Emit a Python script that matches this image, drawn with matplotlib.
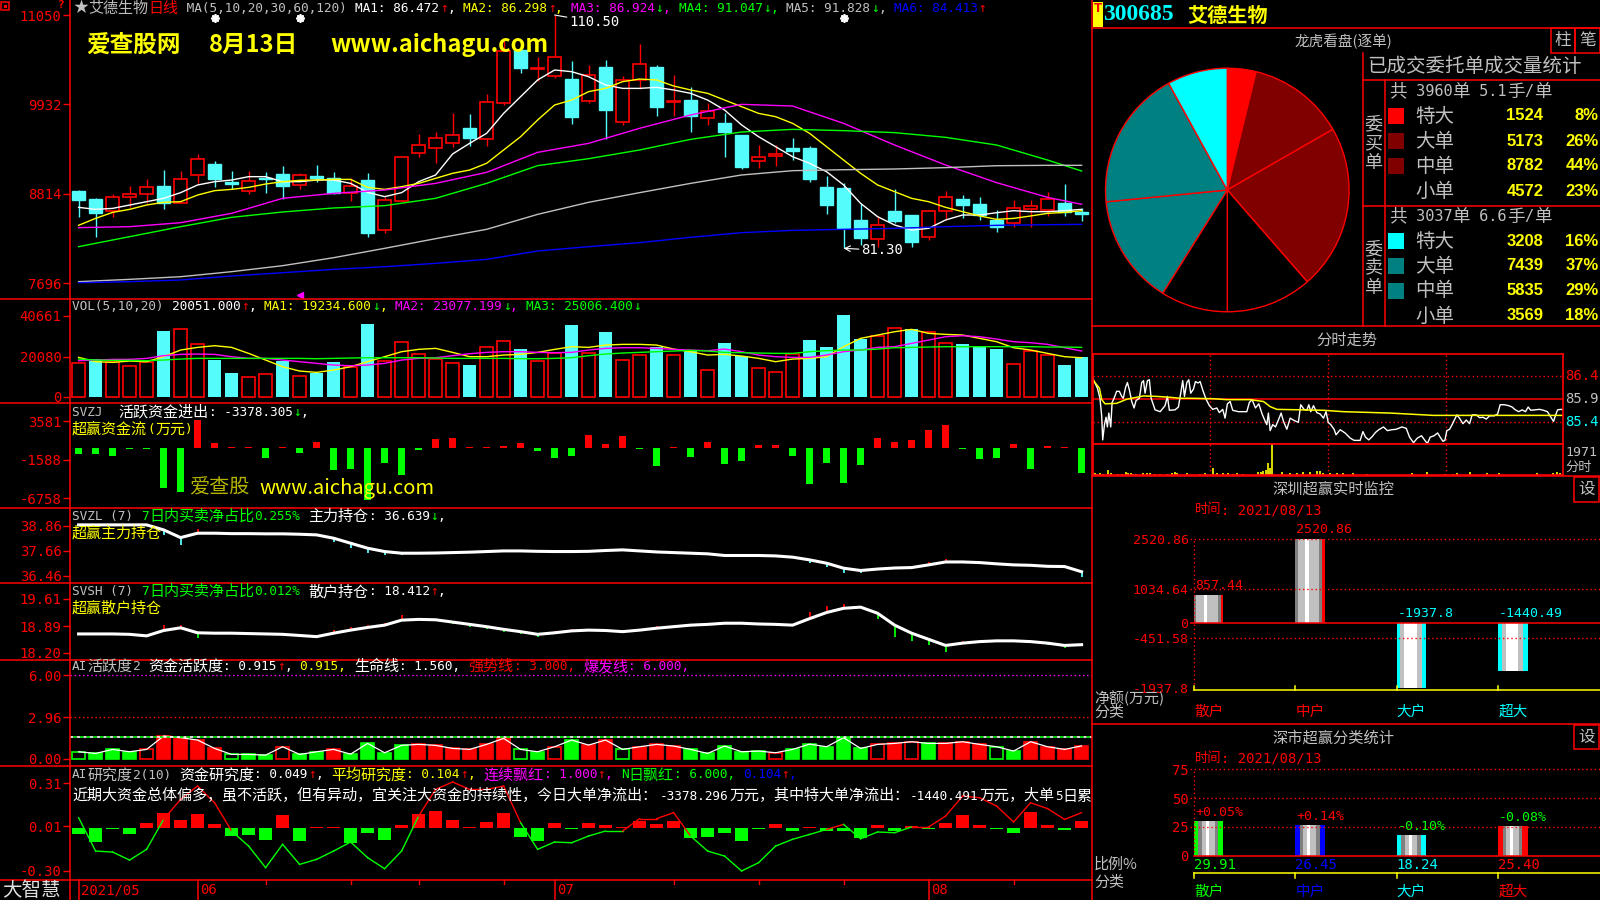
import numpy as np
import matplotlib
matplotlib.use("Agg")
import matplotlib.pyplot as plt
import matplotlib.transforms as mtransforms
from matplotlib.patches import Rectangle
from matplotlib.lines import Line2D

# ------------------------------------------------------------------ data
stock_code = "300685"
stock_name = "艾德生物"
trade_date = "2021/08/13"

month_idx = [0, 7, 28, 50]
month_lbl = ["2021/05", "06", "07", "08"]
week_idx = [11, 16, 20, 25, 35, 40, 45, 55]
event_idx = [8, 13, 45]

opens = [88.47, 87.43, 86.01, 87.68, 88.10, 89.10, 87.01, 90.44, 91.85, 89.64,
         88.52, 90.14, 90.60, 89.18, 90.35, 90.06, 88.18, 89.85, 83.55, 87.26,
         93.27, 93.81, 94.44, 96.36, 94.94, 99.53, 106.12, 103.79, 102.87, 102.49,
         99.78, 103.99, 97.15, 102.37, 103.99, 99.57, 99.86, 97.57, 96.99, 95.48,
         92.27, 92.90, 93.85, 93.90, 88.98, 88.89, 84.85, 82.51, 86.01, 85.47,
         82.76, 85.97, 87.47, 86.85, 84.85, 84.51, 86.26, 86.10, 87.01, 85.89]
highs = [88.60, 87.56, 88.10, 89.10, 89.98, 91.10, 90.98, 93.10, 92.23, 90.98,
         90.98, 90.89, 91.64, 90.77, 91.77, 90.85, 90.14, 90.77, 87.68, 92.69,
         95.57, 95.82, 98.19, 98.11, 100.57, 107.67, 106.54, 105.20, 110.50, 104.75,
         104.24, 104.87, 102.87, 106.87, 104.24, 102.99, 101.45, 99.45, 98.19, 95.48,
         94.23, 94.23, 95.11, 94.15, 90.35, 89.43, 86.85, 85.35, 88.68, 85.47,
         86.10, 88.47, 87.97, 87.76, 86.10, 87.35, 87.35, 88.35, 89.35, 86.31]
lows = [85.26, 82.68, 85.26, 86.51, 86.93, 86.18, 86.93, 89.43, 89.02, 88.68,
        88.10, 88.27, 87.43, 88.73, 89.64, 88.10, 87.22, 82.76, 83.26, 87.14,
        92.77, 91.94, 94.02, 94.15, 94.15, 99.24, 103.29, 102.28, 102.66, 96.86,
        99.53, 94.94, 96.73, 101.20, 97.86, 97.86, 95.82, 96.73, 92.77, 91.27,
        91.40, 91.60, 92.35, 89.64, 85.60, 81.30, 81.72, 81.42, 84.43, 81.50,
        82.34, 84.85, 85.05, 84.85, 83.38, 84.01, 84.01, 85.35, 85.35, 84.76]
closes = [87.35, 85.76, 87.68, 88.06, 89.02, 86.93, 89.94, 92.44, 89.98, 89.35,
          89.69, 89.98, 89.14, 90.48, 90.14, 88.18, 89.14, 83.26, 87.35, 92.69,
          94.19, 95.07, 95.44, 95.07, 99.57, 106.04, 103.83, 103.91, 105.29, 97.78,
          102.95, 98.61, 102.33, 104.33, 99.03, 99.74, 97.90, 98.53, 95.86, 91.52,
          92.73, 93.11, 93.52, 89.98, 86.72, 83.80, 82.55, 84.18, 84.76, 82.13,
          85.97, 87.68, 86.72, 85.47, 84.01, 86.31, 86.60, 87.47, 85.89, 85.55]

ma5 = [86.43, 86.18, 86.30, 86.72, 87.14, 87.56, 88.27, 89.23, 89.64, 89.85,
       90.27, 90.27, 89.64, 89.64, 89.85, 89.85, 89.43, 88.31, 87.77, 88.27,
       89.64, 90.48, 93.11, 94.44, 95.69, 98.19, 100.28, 102.37, 103.62, 103.41,
       102.78, 101.74, 101.32, 101.32, 101.45, 101.12, 100.70, 99.86, 98.61, 96.74,
       95.27, 94.02, 92.77, 91.94, 90.89, 89.23, 86.93, 85.26, 84.22, 83.59,
       83.80, 84.85, 85.47, 85.47, 85.76, 86.01, 85.89, 85.89, 86.01, 86.18]
ma10 = [84.18, 85.05, 85.80, 86.18, 86.72, 87.06, 87.14, 87.97, 88.52, 88.68,
        88.93, 89.35, 89.64, 89.81, 89.85, 89.93, 89.93, 88.93, 88.68, 89.02,
        89.43, 90.06, 90.69, 91.10, 91.94, 93.61, 95.27, 97.36, 99.24, 99.86,
        100.91, 101.32, 102.16, 102.49, 102.37, 101.62, 101.12, 100.70, 99.86, 99.03,
        98.19, 97.78, 96.94, 95.69, 94.02, 92.35, 90.69, 89.23, 88.39, 87.56,
        87.14, 86.43, 85.89, 85.35, 84.93, 85.05, 85.35, 85.68, 85.80, 86.01]
# the slow averages were read every third session
ma_idx = list(range(0, 58, 3)) + [59]
ma20 = [83.89, 84.01, 84.51, 85.68, 87.56, 88.18, 88.60, 89.43, 90.81, 93.31, 94.44,
        96.32, 97.99, 99.32, 99.11, 96.94, 94.23, 91.73, 89.52, 87.68, 86.81]
ma30 = [81.51, 82.76, 84.01, 85.18, 85.85, 86.35, 86.64, 87.56, 89.43, 91.65, 92.52,
        93.61, 94.94, 95.86, 96.19, 96.03, 95.78, 95.19, 94.23, 92.35, 90.98]
ma60 = [77.13, 77.42, 77.75, 78.38, 79.13, 80.13, 81.30, 82.51, 83.68, 85.55, 87.06,
        88.27, 89.43, 90.48, 91.02, 91.14, 91.23, 91.40, 91.64, 91.69, 91.69]
ma120 = [77.00, 77.13, 77.34, 77.84, 78.25, 78.67, 79.00, 79.42, 79.92, 80.97, 81.51,
         82.01, 82.68, 83.26, 83.55, 83.68, 83.80, 84.01, 84.18, 84.26, 84.30]
ma_last = ["86.472", "86.298", "86.924", "91.047", "91.828", "84.413"]
ma_up = [True, True, False, False, False, True]
main_ticks = [76.96, 88.14, 99.32, 110.50]

volume = [16730, 18900, 17570, 15390, 17230, 33130, 33960, 26270, 18400, 12050,
          9700, 11210, 17900, 10370, 12050, 17570, 15060, 36470, 17900, 27270,
          21250, 18900, 16730, 15890, 24760, 27940, 23920, 17900, 21750, 35970,
          21750, 32460, 18400, 20910, 24760, 20910, 23420, 13380, 26940, 20410,
          14220, 12210, 21250, 28440, 24930, 40990, 28940, 30620, 34300, 33960,
          32290, 26770, 26430, 25090, 23920, 16230, 22920, 20910, 15890, 20051]
vol_dir = "RCRRRCRRCC" "RRCRCCRCRR" "RRRCRRCRRC" "RCRRCRCRCC" "RRRCCCCRRC" "RRCCCRRRCC"
vol_ma5 = [19740, 17570, 17230, 17900, 17570, 20080, 23420, 24760, 25600, 24760,
           21750, 18400, 15060, 12880, 12210, 13380, 15060, 17570, 20080, 22590,
           23760, 24260, 22250, 20080, 20080, 20910, 21250, 22250, 23760, 25100,
           24760, 25930, 26270, 26270, 25930, 23920, 22590, 20910, 21250, 20410,
           19240, 17570, 18900, 19240, 20080, 25100, 29280, 30950, 32620, 33800,
           31790, 31290, 30950, 29280, 27600, 24590, 23420, 21750, 20080, 19570]
vol_ma10 = [18070, 18400, 18740, 18740, 19240, 20580, 21250, 21410, 21250, 20080,
            19240, 19240, 18400, 17570, 16730, 15890, 15560, 15890, 16730, 18400,
            19240, 19570, 20580, 21580, 22250, 22590, 22590, 22250, 22080, 22250,
            23420, 24260, 24590, 24590, 24260, 23760, 23420, 23090, 23920, 22590,
            20910, 20080, 19740, 19740, 20910, 22590, 23420, 24760, 25100, 26770,
            28440, 30110, 30620, 30110, 28940, 27600, 27100, 26270, 24590, 22920]
vol_ma20 = [18900, 18400, 18240, 18240, 18070, 18400, 18900, 19240, 19240, 19240,
            19240, 19240, 19240, 19240, 19070, 19240, 19410, 19570, 19570, 19570,
            19570, 19410, 19240, 19240, 19240, 19240, 19070, 19070, 19240, 19570,
            20580, 21410, 21920, 22250, 22590, 22920, 23260, 22920, 22250, 22080,
            21920, 21750, 21750, 22590, 23090, 23420, 23420, 23920, 24590, 24760,
            24930, 25100, 25100, 25100, 25100, 25100, 25100, 24930, 24930, 24760]
vol_ticks = [0, 20080, 40661]

svzj = [-806, -806, -1119, -224, -224, -5372, -5954, 3716, 582, 45,
        45, -1343, 45, -716, 716, -3000, -2865, -6939, -2059, -3582,
        -358, 1119, 1254, 45, 45, 179, 582, -448, -1433, -1164,
        1656, 448, 1522, -224, -2373, 45, -1298, 716, -2104, -1836,
        313, 313, -1164, -4790, -1970, -4656, -2239, 1254, 716, 985,
        2328, 3000, -224, -1567, -1433, 448, -2776, 179, 45, -3378]
svzj_ticks = [-6758, -1588, 3581]

svzl = [38.91, 38.91, 38.91, 38.91, 38.91, 38.67, 38.30, 38.51, 38.51, 38.49,
        38.49, 38.48, 38.48, 38.46, 38.43, 38.27, 38.03, 37.79, 37.63, 37.55,
        37.55, 37.56, 37.58, 37.60, 37.63, 37.66, 37.66, 37.64, 37.63, 37.63,
        37.64, 37.68, 37.71, 37.66, 37.61, 37.58, 37.55, 37.52, 37.44, 37.44,
        37.44, 37.42, 37.36, 37.23, 37.07, 36.83, 36.72, 36.79, 36.84, 36.86,
        36.99, 37.13, 37.13, 37.10, 37.04, 36.99, 36.97, 36.92, 36.91, 36.66]
svzl_ticks = [36.46, 37.66, 38.86]

svsh = [18.69, 18.69, 18.69, 18.68, 18.64, 18.78, 18.85, 18.72, 18.71, 18.71,
        18.70, 18.69, 18.68, 18.65, 18.62, 18.71, 18.79, 18.86, 18.92, 19.05,
        19.07, 19.06, 19.00, 18.94, 18.88, 18.81, 18.75, 18.68, 18.72, 18.77,
        18.79, 18.78, 18.75, 18.79, 18.84, 18.88, 18.92, 18.94, 18.97, 18.97,
        18.95, 18.94, 18.92, 19.09, 19.25, 19.36, 19.39, 19.23, 18.92, 18.71,
        18.55, 18.39, 18.45, 18.49, 18.51, 18.51, 18.49, 18.45, 18.39, 18.41]
svsh_ticks = [18.20, 18.89, 19.61]

act = [0.50, 0.38, 0.67, 0.50, 0.67, 1.63, 1.51, 1.34, 0.74, 0.31,
       0.31, 0.26, 0.86, 0.31, 0.50, 0.67, 0.33, 1.10, 0.43, 0.96,
       1.03, 0.96, 0.74, 0.67, 1.03, 1.46, 0.67, 0.50, 0.86, 1.34,
       0.98, 1.34, 0.67, 0.86, 1.03, 0.91, 0.67, 0.38, 0.91, 0.50,
       0.55, 0.43, 0.67, 1.05, 0.86, 1.51, 0.74, 1.03, 1.10, 1.22,
       1.10, 1.10, 1.22, 1.03, 0.86, 0.55, 1.22, 0.86, 0.67, 0.92]
act_kind = "GgggRrrrrG" "ggRggrgggg" "rrrrrrGgRg" "rrGrrrgggg" "gRgggggRrR" "grrrGgrrrr"
act_ticks = [0.00, 2.96, 6.00]
life_line, strong_line, burst_line = 1.56, 3.0, 6.0

res_bar = [-0.047, -0.10, -0.012, -0.042, 0.030, 0.10, 0.051, 0.093, 0.023, -0.058,
           -0.049, -0.086, 0.086, -0.093, 0.005, 0.007, -0.105, -0.040, -0.086, 0.016,
           0.093, 0.114, 0.051, 0.007, 0.040, 0.10, -0.063, -0.093, 0.030, -0.012,
           0.030, 0.016, 0.005, 0.047, 0.023, 0.047, -0.072, -0.063, -0.035, -0.093,
           -0.012, 0.023, -0.023, 0.005, -0.023, -0.023, -0.072, 0.016, -0.023, 0.012,
           -0.007, 0.035, 0.086, 0.016, -0.012, -0.035, 0.109, 0.016, -0.019, 0.049]
res_line = [0.070, -0.163, -0.170, -0.226, -0.151, 0.058, 0.198, 0.291, 0.174, -0.023,
            -0.128, -0.279, -0.116, -0.256, -0.221, -0.163, -0.100, -0.209, -0.286, -0.163,
            0.081, 0.267, 0.319, 0.267, 0.267, 0.291, 0.035, -0.151, -0.100, -0.105,
            -0.058, -0.023, -0.023, 0.063, 0.063, 0.105, -0.058, -0.163, -0.198, -0.302,
            -0.244, -0.128, -0.081, -0.047, -0.012, 0.023, -0.077, -0.030, -0.035, 0.005,
            0.005, 0.081, 0.221, 0.209, 0.151, 0.040, 0.174, 0.133, 0.058, 0.105]
res_ticks = [-0.30, 0.01, 0.31]
res_note = ("近期大资金总体偏多，虽不活跃，但有异动，宜关注大资金的持续性，今日大单净流出："
            "-3378.296万元，其中特大单净流出：-1440.491万元，大单5日累")

# order book pie / table
order_lbl = ["特大", "大单", "中单", "小单"]
buy_qty = [1524, 5173, 8782, 4572]
sell_qty = [3208, 7439, 5835, 3569]
buy_orders, buy_per = 3960, "5.1"
sell_orders, sell_per = 3037, "6.6"

# intraday
fs_levels = [86.41, 85.91, 85.41]
fs_vol_max = 1971
fs_min = [0, 2.4, 3.7, 4.6, 5.1, 6.0, 6.8, 7.5, 8.2, 9.2,
          9.9, 10.9, 12.2, 13.6, 14.8, 15.6, 16.8, 17.7, 18.7, 19.9,
          21.1, 22.1, 23.8, 25.0, 25.9, 26.7, 27.9, 28.9, 29.8, 31.8,
          34.4, 36.9, 38.1, 39.1, 42.0, 43.7, 44.9, 45.9, 46.8, 48.0,
          49.0, 50.0, 51.4, 52.4, 53.7, 54.8, 56.1, 57.8, 59.5, 61.2,
          63.3, 64.6, 66.3, 67.5, 68.7, 70.1, 71.4, 74.3, 78.6, 79.9,
          81.3, 83.0, 84.7, 86.4, 87.8, 88.8, 89.6, 90.5, 91.8, 93.2,
          94.9, 96.1, 97.3, 99.0, 100.7, 102.7, 104.9, 106.1, 107.8, 109.2,
          110.2, 111.2, 112.6, 114.3, 116.0, 117.7, 119.0, 120.1, 121.4, 123.1,
          124.1, 126.2, 128.7, 131.3, 133.3, 136.4, 137.8, 139.1, 140.8, 142.5,
          144.2, 145.9, 148.3, 150.3, 152.6, 154.8, 157.7, 159.9, 161.6, 163.6,
          165.6, 167.7, 169.4, 170.7, 172.1, 174.1, 175.9, 177.2, 178.6, 179.6,
          180.6, 182.0, 183.3, 184.7, 185.7, 187.1, 188.8, 190.5, 192.2, 193.5,
          195.6, 197.3, 199.0, 200.7, 202.4, 204.8, 206.5, 207.8, 209.9, 212.2,
          213.9, 215.5, 217.3, 219.0, 220.7, 222.1, 223.4, 225.9, 227.9, 229.9,
          231.9, 233.7, 235.0, 236.1, 237.1, 238.8, 240]
fs_price = [86.36, 86.15, 85.93, 85.54, 85.03, 85.36, 85.52, 85.31, 85.61, 85.31,
            85.84, 85.93, 86.08, 86.08, 85.97, 85.93, 86.17, 86.27, 86.11, 85.86,
            85.72, 85.88, 85.93, 86.27, 86.31, 86.04, 86.31, 86.33, 85.93, 85.68,
            85.64, 85.77, 85.97, 85.67, 85.68, 85.74, 86.04, 86.31, 85.97, 86.27,
            86.33, 86.04, 86.13, 86.29, 86.26, 86.29, 86.11, 85.91, 85.77, 85.69,
            85.72, 85.62, 85.69, 85.50, 85.81, 85.86, 85.67, 85.64, 85.64, 85.84,
            85.90, 85.72, 85.81, 85.59, 85.45, 85.36, 85.61, 85.23, 85.36, 85.31,
            85.48, 85.61, 85.43, 85.26, 85.50, 85.45, 85.41, 85.79, 85.69, 85.67,
            85.79, 85.64, 85.77, 85.62, 85.59, 85.50, 85.64, 85.41, 85.36, 85.26,
            85.14, 85.25, 85.18, 85.07, 85.02, 85.02, 85.21, 85.09, 85.03, 85.10,
            85.19, 85.25, 85.31, 85.23, 85.25, 85.26, 85.31, 85.28, 85.09, 84.97,
            85.07, 85.12, 85.02, 84.95, 85.09, 85.12, 85.18, 85.09, 85.00, 85.02,
            85.23, 85.26, 85.36, 85.48, 85.57, 85.50, 85.38, 85.46, 85.38, 85.57,
            85.57, 85.51, 85.52, 85.48, 85.55, 85.55, 85.59, 85.79, 85.79, 85.77,
            85.74, 85.68, 85.64, 85.68, 85.64, 85.74, 85.67, 85.68, 85.69, 85.67,
            85.64, 85.52, 85.43, 85.57, 85.68, 85.69, 85.68]
avg_min = [0, 3.4, 4.6, 6.3, 12.2, 17.4, 25.9, 32.7, 39.5, 44.6, 49.7,
           61.6, 68.4, 80.3, 87.1, 90.5, 93.9, 117.7, 127.9, 151.7, 173.8, 240]
avg_price = [86.33, 86.15, 85.90, 85.81, 85.82, 85.91, 85.98, 85.97, 85.95, 85.93, 85.93,
             85.92, 85.90, 85.90, 85.86, 85.75, 85.69, 85.67, 85.64, 85.61, 85.56, 85.56]
fsv_min = [1.2, 2.4, 3.7, 5.1, 8.0, 9.2, 13.1, 14.8, 17.0, 18.2,
           19.4, 20.8, 22.1, 25.9, 27.6, 29.3, 31.8, 34.4, 37.8, 40.3,
           42.0, 43.2, 48.0, 54.8, 57.3, 61.2, 63.3, 66.7, 69.2, 71.8,
           73.5, 76.9, 84.5, 85.7, 87.1, 88.4, 89.6, 90.5, 91.3, 96.4,
           100.7, 104.4, 107.5, 110.9, 114.3, 116.0, 117.7, 121.1, 124.5, 127.9,
           133.0, 139.8, 162.8, 170.4, 179.7, 184.0, 185.7, 192.5, 201.0, 207.0,
           226.5, 235.0, 236.7, 238.4]
fsv_qty = [107, 64, 107, 64, 321, 107, 86, 86, 171, 128,
           107, 86, 64, 128, 107, 128, 86, 86, 86, 128,
           214, 128, 107, 86, 107, 428, 107, 107, 128, 86,
           107, 86, 171, 214, 257, 321, 750, 428, 1971, 171,
           107, 107, 171, 171, 257, 257, 128, 107, 128, 107,
           107, 86, 128, 171, 86, 86, 107, 171, 128, 128,
           128, 107, 214, 128]

# 深圳超赢 / 深市分类
sz_cats = ["散户", "中户", "大户", "超大"]
sz_net = [857.44, 2520.86, -1937.8, -1440.49]
sz_ticks = [2520.86, 1034.64, 0, -451.58, -1937.8]
sc_ratio = [29.91, 26.45, 18.24, 25.40]
sc_chg = ["+0.05%", "+0.14%", "-0.10%", "-0.08%"]
sc_ticks = [0, 25, 50, 75]

# ------------------------------------------------------------------ style
W, H = 1600, 900
RED = "#ff0000"
CYAN = "#54fcfc"
AQUA = "#00ffff"
GREEN = "#00ff00"
YELLOW = "#ffff00"
MAGENTA = "#ff00ff"
GRAY = "#c0c0c0"
DGRAY = "#808080"
BLUE = "#0000ff"
WHITE = "#ffffff"
MONO = ["DejaVu Sans Mono", "Noto Sans CJK SC"]
CJK = ["Noto Sans CJK SC", "DejaVu Sans"]
plt.rcParams["font.family"] = CJK

fig = plt.figure(figsize=(16, 9), dpi=100, facecolor="black")


def px_axes(x0, y0, x1, y1):
    ax = fig.add_axes([x0 / W, 1 - y1 / H, (x1 - x0) / W, (y1 - y0) / H])
    ax.set_facecolor("black")
    for s in ax.spines.values():
        s.set_visible(False)
    ax.set_xticks([])
    ax.set_yticks([])
    return ax


def fline(x0, y0, x1, y1, color=RED, lw=1.1, ls="-"):
    fig.add_artist(Line2D([x0 / W, x1 / W], [1 - y0 / H, 1 - y1 / H],
                          transform=fig.transFigure, color=color, lw=lw, ls=ls))


def frect(x0, y0, x1, y1, fc="none", ec="none", lw=1.1):
    fig.add_artist(Rectangle((x0 / W, 1 - y1 / H), (x1 - x0) / W, (y1 - y0) / H,
                             transform=fig.transFigure, facecolor=fc, edgecolor=ec, lw=lw))


def ftext(x, y, s, color=GRAY, size=11, family=CJK, ha="left", **kw):
    return fig.text(x / W, 1 - y / H, s, color=color, fontsize=size, family=family,
                    ha=ha, va="center", **kw)


def put(x, y, pieces, size=9.2, scale=1.18, clip=None):
    # draw coloured pieces one after another, CJK glyphs twice as wide as ascii
    for txt, col in pieces:
        segs = []
        for ch in txt:
            wide = ord(ch) >= 0x2E80 or ch == "★"
            if segs and segs[-1][0] == wide:
                segs[-1][1] += ch
            else:
                segs.append([wide, ch])
        for wide, seg in segs:
            fs = size * scale if wide else size
            t = ftext(x, y, seg, color=col, size=fs, family=CJK if wide else MONO)
            if clip is not None:
                t.set_clip_box(clip.bbox)
                t.set_clip_on(True)
            x += len(seg) * fs * (1.0 if wide else 0.602) * 100 / 72
    return x


def arrow(up):
    return ("↑", RED) if up else ("↓", GREEN)


# ------------------------------------------------------------------ left side
LX0, LX1 = 70, 1092
C0, STEP = 78.6, 17.0
XLIM = ((LX0 - C0) / STEP, (LX1 - C0) / STEP)
idx = np.arange(len(closes))


def left_panel(y0, y1, ylim, ticks, labels):
    ax = px_axes(LX0, y0, LX1, y1)
    ax.set_xlim(*XLIM)
    ax.set_ylim(*ylim)
    ax.set_yticks(ticks)
    ax.set_yticklabels(labels, family=MONO, fontsize=10)
    ax.tick_params(axis="y", colors=RED, length=5, width=1, pad=1)
    return ax


# main candle panel
ax_k = left_panel(0, 299, (74.96, 112.38), main_ticks, [f"{v * 100:.0f}" for v in main_ticks])
BW = 0.72
for i in idx:
    o, h, l, c = opens[i], highs[i], lows[i], closes[i]
    if c >= o:
        ax_k.vlines(i, l, o, color=RED, lw=1)
        ax_k.vlines(i, c, h, color=RED, lw=1)
        ax_k.add_patch(Rectangle((i - BW / 2, o), BW, max(c - o, 0.03), facecolor="black",
                                 edgecolor=RED, lw=1.2, zorder=2))
    else:
        ax_k.vlines(i, l, h, color=CYAN, lw=1)
        ax_k.add_patch(Rectangle((i - BW / 2, c), BW, max(o - c, 0.03), facecolor=CYAN,
                                 edgecolor=CYAN, lw=1, zorder=2))
ma_cols = [WHITE, YELLOW, MAGENTA, GREEN, GRAY, BLUE]
ax_k.plot(idx, ma5, color=WHITE, lw=1, zorder=3)
ax_k.plot(idx, ma10, color=YELLOW, lw=1, zorder=3)
for vals, col in zip([ma20, ma30, ma60, ma120], ma_cols[2:]):
    ax_k.plot(ma_idx, vals, color=col, lw=1, zorder=3)

hi = int(np.argmax(highs))
lo = int(np.argmin(lows))
ax_k.annotate(f"{highs[hi]:.2f}", xy=(hi, highs[hi]), xytext=(15, -7), textcoords="offset pixels",
              color=WHITE, fontsize=10, family=MONO, va="center",
              arrowprops=dict(arrowstyle="-", color=WHITE, lw=0.8, shrinkA=0, shrinkB=0))
ax_k.annotate(f"{lows[lo]:.2f}", xy=(lo, lows[lo]), xytext=(18, -2), textcoords="offset pixels",
              color=WHITE, fontsize=10, family=MONO, va="center",
              arrowprops=dict(arrowstyle="->", color=WHITE, lw=0.8, shrinkA=0, shrinkB=0))
tr_k = mtransforms.blended_transform_factory(ax_k.transData, ax_k.transAxes)
ax_k.plot(event_idx, [0.94] * len(event_idx), transform=tr_k, ls="none",
          marker=(8, 2, 0), ms=6, mew=1.3, color=WHITE)
ax_k.plot([event_idx[1]], [0.013], transform=tr_k, marker="<", ms=5, color=MAGENTA, clip_on=False)

head = [("★", GRAY), (stock_name, GRAY), ("日线", RED), (" MA(5,10,20,30,60,120) ", GRAY)]
for k, (val, up, col) in enumerate(zip(ma_last, ma_up, ma_cols)):
    head += [(f"MA{k + 1}: {val}", col), arrow(up)]
    if k < len(ma_last) - 1:
        head.append((", ", col))
put(73, 8, head)
frect(1, 2, 9, 10, ec=RED)
frect(3.5, 4.5, 6.5, 7.5, fc=RED)
ftext(61, 5, "?", color=RED, size=8, family=MONO, fontweight="bold", ha="center")
for x, s in [(86, "爱查股网"), (209, "8月13日"), (330, "www.aichagu.com")]:
    ftext(x, 45, s, color=YELLOW, size=17, fontweight="bold")

# volume
ax_v = left_panel(299, 403, (-3163, 49045), vol_ticks, [str(v) for v in vol_ticks])
vol = np.array(volume)
up = np.array([d == "R" for d in vol_dir])
ax_v.bar(idx[up], vol[up], BW, facecolor="black", edgecolor=RED, lw=1.2)
ax_v.bar(idx[~up], vol[~up], BW, color=CYAN, lw=0)
ax_v.plot(idx, vol_ma5, color=YELLOW, lw=1)
ax_v.plot(idx, vol_ma10, color=MAGENTA, lw=1)
ax_v.plot(idx, vol_ma20, color=GREEN, lw=1)
put(72, 307, [("VOL(5,10,20) ", GRAY), (f"{volume[-1]}.000", WHITE), arrow(True), (", ", WHITE),
              ("MA1: 19234.600", YELLOW), arrow(False), (", ", YELLOW),
              ("MA2: 23077.199", MAGENTA), arrow(False), (", ", MAGENTA),
              ("MA3: 25006.400", GREEN), arrow(False)])

# SVZJ money flow
ax_z = left_panel(403, 508, (-8067, 6003), svzj_ticks, [str(v) for v in svzj_ticks])
zj = np.array(svzj)
ax_z.bar(idx, zj, 0.38, color=np.where(zj > 0, RED, GREEN), lw=0)
put(72, 412, [("SVZJ  ", GRAY), ("活跃资金进出: -3378.305", WHITE), arrow(False), (",", WHITE)])
put(72, 429, [("超赢资金流(万元)", YELLOW)])
ftext(189, 488, "爱查股", color="#b4b400", size=14.5)
ftext(259, 488, "www.aichagu.com", color=YELLOW, size=14.5)

# SVZL / SVSH holding lines
for (y0, y1, ylim, vals, ticks, lo_c, name, pct, lab, last, up_last, sub) in [
        (508, 583, (36.12, 39.72), svzl, svzl_ticks, CYAN, "SVZL", "0.255%", "主力持仓", "36.639", False,
         "超赢主力持仓"),
        (583, 660, (18.01, 20.02), svsh, svsh_ticks, GREEN, "SVSH", "0.012%", "散户持仓", "18.412", True,
         "超赢散户持仓")]:
    a = left_panel(y0, y1, ylim, ticks, [f"{v:.2f}" for v in ticks])
    v = np.array(vals)
    d = np.diff(v, prepend=v[0])
    a.vlines(idx, v, v + d, colors=np.where(d > 0, RED, lo_c), lw=1.3)
    a.plot(idx, v, color=WHITE, lw=2.2)
    put(72, y0 + 8.7, [(f"{name} (7) ", GRAY), (f"7日内买卖净占比{pct}", GREEN),
                       (f" {lab}: {last}", WHITE), arrow(up_last), (",", WHITE)])
    put(72, y0 + 24.7, [(sub, YELLOW)])

# AI activity
ax_a = left_panel(660, 766, (-0.52, 7.08), act_ticks, [f"{v:.2f}" for v in act_ticks])
for i, (v, kd) in enumerate(zip(act, act_kind)):
    col = RED if kd in "rR" else GREEN
    face = col if kd in "rg" else "black"
    ax_a.bar(i, v, 0.75, facecolor=face, edgecolor=col, lw=1.2)
ax_a.plot(idx, act, color=WHITE, lw=0.9)
ax_a.axhline(burst_line, color=MAGENTA, lw=1, ls=(0, (1, 2)))
ax_a.axhline(strong_line, color=RED, lw=1, ls=(0, (1, 2)))
ax_a.axhline(life_line, color=WHITE, lw=1.2, ls=(0, (2, 2)))
ax_a.axhline(life_line, color=GREEN, lw=1.2, ls=(2, (2, 2)))
put(72, 666.7, [("AI活跃度2 ", GRAY), ("资金活跃度: 0.915", WHITE), arrow(True), (", ", WHITE),
                ("0.915, ", YELLOW), (f"生命线: {life_line:.3f}, ", WHITE),
                (f"强势线: {strong_line:.3f}, ", RED), (f"爆发线: {burst_line:.3f},", MAGENTA)])

# AI research
ax_r = left_panel(766, 880, (-0.365, 0.4306), res_ticks, [f"{v:.2f}" for v in res_ticks])
rb = np.array(res_bar)
ax_r.bar(idx, rb, 0.78, color=np.where(rb > 0, RED, GREEN), lw=0)
for i in range(len(res_line) - 1):
    a0, a1 = res_line[i], res_line[i + 1]
    ax_r.plot([i, i + 1], [a0, a1], color=RED if a0 + a1 >= 0 else GREEN, lw=1)
put(72, 775, [("AI研究度2(10) ", GRAY), (f"资金研究度: {res_bar[-1]:.3f}", WHITE), arrow(True), (", ", WHITE),
              ("平均研究度: 0.104", YELLOW), arrow(True), (", ", YELLOW),
              ("连续飘红: 1.000", MAGENTA), arrow(True), (", ", MAGENTA),
              ("N日飘红: 6.000, ", GREEN), ("0.104", BLUE), arrow(True), (",", BLUE)])
put(72, 796, [(res_note, WHITE)], clip=ax_r)

# frame lines and dates
for y in [299, 403, 508, 583, 660, 766, 880]:
    fline(0, y, LX1, y)
fline(LX0, 0, LX0, 900)
fline(LX1, 0, LX1, 900)
tr_d = mtransforms.blended_transform_factory(ax_r.transData, fig.transFigure)
for i, lab in zip(month_idx, month_lbl):
    fig.add_artist(Line2D([i, i], [1 - 880 / H, 0], transform=tr_d, color=RED, lw=1.1))
    ax_r.text(i + 0.12, 1 - 890 / H, lab, transform=tr_d, color=RED, fontsize=10,
              family=MONO, va="center", ha="left")
for i in week_idx:
    fig.add_artist(Line2D([i, i], [1 - 880 / H, 1 - 884 / H], transform=tr_d, color=RED, lw=1))
ftext(2, 890, "大智慧", color="#e0e0e0", size=14)

# ------------------------------------------------------------------ right side
frect(1093.3, 1.7, 1102.7, 26.7, fc=YELLOW)
ftext(1098, 8, "T", color=RED, size=8.5, family=["DejaVu Sans"], ha="center", fontweight="bold")
ftext(1103, 15, stock_code, color=AQUA, size=17, family=["Liberation Serif"], fontweight="bold")
ftext(1187, 15, stock_name, color=YELLOW, size=14.5, fontweight="bold")
for y in [28.3, 326, 476, 724]:
    fline(LX1, y, 1600, y)

# order pie
ftext(1295, 41.7, "龙虎看盘(逐单)", color=GRAY, size=10.5)
frect(1550.7, 28.3, 1575, 53, ec=RED)
frect(1575, 28.3, 1600, 53, ec=RED)
ftext(1562.8, 41, "柱", size=12, ha="center")
ftext(1587.5, 41, "笔", size=12, ha="center")
ax_pie = px_axes(1104.3, 67, 1350.3, 313)
buy_cols = [RED, "#800000", "#800000", "#000000"]
sell_cols = [AQUA, "#008080", "#008080", "#000000"]
ax_pie.pie(buy_qty + sell_qty[::-1], colors=buy_cols + sell_cols[::-1], startangle=90,
           counterclock=False, radius=0.99, wedgeprops=dict(edgecolor=RED, linewidth=1))
ax_pie.set_xlim(-1, 1)
ax_pie.set_ylim(-1, 1)

fline(1362.7, 53, 1362.7, 326)
fline(1362.7, 80, 1600, 80)
fline(1385.3, 80, 1385.3, 326)
fline(1362.7, 205.7, 1600, 205.7)
ftext(1367, 66.7, "已成交委托单成交量统计", size=14)
for (y_top, side, qty, cols, n_orders, per) in [
        (91.7, "委买单", buy_qty, buy_cols, buy_orders, buy_per),
        (216.7, "委卖单", sell_qty, sell_cols, sell_orders, sell_per)]:
    put(1389, y_top, [(f"共 {n_orders}单 {per}手/单", GRAY)], size=11, scale=1.15)
    for k, ch in enumerate(side):
        ftext(1373.5, y_top + 32.5 + 19.5 * k, ch, size=13, ha="center")
    total = sum(qty)
    for k, (lab, q, c) in enumerate(zip(order_lbl, qty, cols)):
        y = y_top + 24.3 + 25 * k
        if c != "#000000":
            frect(1387.7, y - 7.8, 1404, y + 7.8, fc=c)
        ftext(1415, y, lab, size=14)
        ftext(1543.3, y, str(q), color=YELLOW, size=12, family=["Liberation Sans"], ha="right",
              fontweight="bold")
        ftext(1598.5, y, f"{round(q / total * 100)}%", color=YELLOW, size=12,
              family=["Liberation Sans"], ha="right", fontweight="bold")

# intraday trend
ftext(1346.7, 340, "分时走势", size=11, ha="center")
ax_fp = px_axes(1092.7, 354.3, 1563.3, 444.3)
ax_fv = px_axes(1092.7, 444.3, 1563.3, 475)
for a in (ax_fp, ax_fv):
    for s in a.spines.values():
        s.set_visible(True)
        s.set_color(RED)
        s.set_linewidth(1.2)
    a.set_xlim(0, 240)
    for m in (60, 120, 180):
        a.axvline(m, color=RED, lw=1, ls=(0, (1, 2)))
span = fs_levels[0] - fs_levels[1]
ax_fp.set_ylim(fs_levels[2] - 0.95 * span, fs_levels[0] + 0.94 * span)
ax_fp.axhline(fs_levels[0], color=RED, lw=1, ls=(0, (1, 2)))
ax_fp.axhline(fs_levels[1], color=RED, lw=1.1)
ax_fp.axhline(fs_levels[2], color=RED, lw=1, ls=(0, (1, 2)))
ax_fp.plot(fs_min, fs_price, color=WHITE, lw=1)
ax_fp.plot(avg_min, avg_price, color=YELLOW, lw=1.1)
ax_fv.set_ylim(0, fs_vol_max)
ax_fv.vlines(fsv_min, 0, fsv_qty, color=YELLOW, lw=1.2)
for lvl, col, y in zip(fs_levels, [RED, GRAY, AQUA], [376, 399.3, 422.3]):
    ftext(1565, y, f"{lvl:.2f}", color=col, size=10, family=MONO)
ftext(1565, 452, str(fs_vol_max), size=9.5, family=MONO)
ftext(1565, 467, "分时", size=9.5)


def striped(ax, x, h, width, stripes):
    for f0, f1, col in stripes:
        ax.bar(x + f0 * width, h, (f1 - f0) * width, align="edge", color=col, lw=0)


# 深圳超赢实时监控
ftext(1333.3, 489.3, "深圳超赢实时监控", size=11, ha="center")
frect(1574.3, 477.3, 1599.3, 501.7, ec=RED)
ftext(1586.8, 489.5, "设", size=12, ha="center")
put(1195, 510, [("时间", RED), (f": {trade_date}", RED)], size=10, scale=0.95)
CAT_W = 101.4
ax_sz = px_axes(1190, 530, 1600, 690)
ax_sz.set_xlim(-4 / CAT_W, 406 / CAT_W)
ax_sz.set_ylim(-1998, 2800)
ax_sz.set_yticks(sz_ticks)
ax_sz.set_yticklabels([f"{v:g}" for v in sz_ticks], family=MONO, fontsize=9.5)
ax_sz.tick_params(axis="y", colors=RED, length=0, pad=1)
for v in sz_ticks:
    if v not in (0, sz_ticks[-1]):
        ax_sz.axhline(v, color=RED, lw=1, ls=(0, (1, 2)))
ax_sz.vlines(0, sz_ticks[-1], sz_ticks[0], color=RED, lw=1, ls=(0, (1, 2)))
pos_st = [(0, 0.08, DGRAY), (0.08, 0.33, GRAY), (0.33, 0.45, WHITE), (0.45, 0.8, GRAY),
          (0.8, 0.92, DGRAY), (0.92, 1, RED)]
neg_st = [(0, 0.12, AQUA), (0.12, 0.25, GRAY), (0.25, 0.68, WHITE), (0.68, 0.86, GRAY),
          (0.86, 1, AQUA)]
for k, v in enumerate(sz_net):
    striped(ax_sz, k, v, 0.29, pos_st if v > 0 else neg_st)
    col = RED if v > 0 else AQUA
    ax_sz.annotate(f"{v:g}", xy=(k, max(v, 0)), xytext=(1, 3), textcoords="offset pixels",
                   color=col, fontsize=9.5, family=MONO, va="bottom", ha="left")
    ftext(1194 + k * CAT_W, 711.7, sz_cats[k], color=col, size=10.5)
    fline(1194 + k * CAT_W, 686, 1194 + k * CAT_W, 690, color=YELLOW)
ax_sz.axhline(0, color=RED, lw=1.1)
fline(1194, 690, 1600, 690, color=YELLOW)
ftext(1094, 698, "净额(万元)", size=10.8)
ftext(1094, 713, "分类", size=10.8)

# 深市超赢分类统计
ftext(1333.3, 738.3, "深市超赢分类统计", size=11, ha="center")
frect(1574.3, 725, 1599.3, 749, ec=RED)
ftext(1586.8, 737, "设", size=12, ha="center")
put(1195, 758.3, [("时间", RED), (f": {trade_date}", RED)], size=10, scale=0.95)
ax_sc = px_axes(1190, 765, 1600, 855.7)
ax_sc.set_xlim(-4 / CAT_W, 406 / CAT_W)
ax_sc.set_ylim(0, 78.73)
ax_sc.set_yticks(sc_ticks)
ax_sc.set_yticklabels([str(v) for v in sc_ticks], family=MONO, fontsize=10)
ax_sc.tick_params(axis="y", colors=RED, length=0, pad=1)
for v in sc_ticks[1:]:
    ax_sc.axhline(v, color=RED, lw=1, ls=(0, (1, 2)))
ax_sc.vlines(0, 0, sc_ticks[-1], color=RED, lw=1, ls=(0, (1, 2)))
sc_cols = [GREEN, BLUE, AQUA, RED]
for k, (v, c, chg) in enumerate(zip(sc_ratio, sc_cols, sc_chg)):
    striped(ax_sc, k, v, 0.29, [(0, 0.15, c), (0.15, 0.27, DGRAY), (0.27, 0.4, GRAY),
                               (0.4, 0.5, WHITE), (0.5, 0.7, GRAY), (0.7, 0.82, DGRAY), (0.82, 1, c)])
    ax_sc.annotate(chg, xy=(k, v), xytext=(1, 2), textcoords="offset pixels",
                   color=RED if chg.startswith("+") else GREEN, fontsize=9.5, family=MONO,
                   va="bottom", ha="left")
    x = 1194 + k * CAT_W
    ftext(x, 865, f"{v:.2f}", color=c, size=10, family=MONO)
    fline(x, 873.3, x, 878.3, color=YELLOW)
    ftext(x, 891.7, sz_cats[k], color=c, size=10.5)
fline(1194, 855.7, 1600, 855.7)
fline(1194, 873.3, 1600, 873.3, color=YELLOW)
ftext(1094, 865, "比例%", size=10.8)
ftext(1094, 882.3, "分类", size=10.8)

fig.savefig("out.png", dpi=100, facecolor="black")
